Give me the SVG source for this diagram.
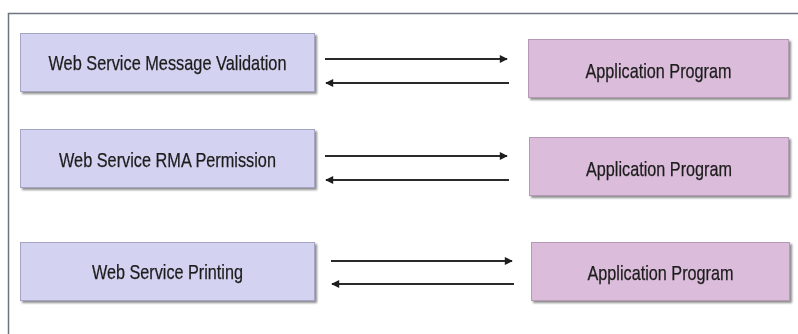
<svg xmlns="http://www.w3.org/2000/svg" width="798" height="334" viewBox="0 0 798 334">
  <defs>
    <filter id="shadow" x="-5%" y="-10%" width="115%" height="130%">
      <feGaussianBlur in="SourceAlpha" stdDeviation="1.2"/>
      <feOffset dx="2" dy="2" result="off"/>
      <feComponentTransfer><feFuncA type="linear" slope="0.45"/></feComponentTransfer>
      <feMerge><feMergeNode/><feMergeNode in="SourceGraphic"/></feMerge>
    </filter>
    <marker id="head" viewBox="0 0 10 10" refX="9" refY="5" markerWidth="9" markerHeight="8" markerUnits="userSpaceOnUse" orient="auto">
      <path d="M0,0 L10,5 L0,10 z" fill="#1e1e1e"/>
    </marker>
  </defs>
  <style>
    .svc { fill: #d3d3f1; stroke: #a4a4c4; stroke-width: 1; }
    .app { fill: #dbbddb; stroke: #b49ab4; stroke-width: 1; }
    .lbl { font-family: "Liberation Sans", Arial, sans-serif; font-size: 21px; fill: #1c1c1c; stroke: #1c1c1c; stroke-width: 0.25; text-anchor: middle; }
    .link { stroke: #2a2a2a; stroke-width: 2; fill: none; marker-end: url(#head); }
    .frame { stroke: #6e7580; stroke-width: 1.5; fill: none; }
  </style>

  <rect width="798" height="334" fill="#ffffff"/>
  <!-- outer frame: top and left edges only -->
  <path class="frame" d="M8.5,334 V13.5 H798"/>

  <g id="svc-validation" filter="url(#shadow)">
    <rect class="svc" x="20.5" y="33.5" width="294" height="58"/>
    <text class="lbl" x="167.5" y="70" textLength="238" lengthAdjust="spacingAndGlyphs">Web Service Message Validation</text>
  </g>
  <g id="svc-rma" filter="url(#shadow)">
    <rect class="svc" x="20.5" y="129.5" width="294" height="58"/>
    <text class="lbl" x="167.5" y="166.5" textLength="217" lengthAdjust="spacingAndGlyphs">Web Service RMA Permission</text>
  </g>
  <g id="svc-printing" filter="url(#shadow)">
    <rect class="svc" x="20.5" y="242.5" width="294" height="58"/>
    <text class="lbl" x="167.5" y="279" textLength="151" lengthAdjust="spacingAndGlyphs">Web Service Printing</text>
  </g>

  <g id="app-1" filter="url(#shadow)">
    <rect class="app" x="528.5" y="39.5" width="260" height="58"/>
    <text class="lbl" x="658.5" y="78" textLength="146" lengthAdjust="spacingAndGlyphs">Application Program</text>
  </g>
  <g id="app-2" filter="url(#shadow)">
    <rect class="app" x="529.5" y="137.5" width="259" height="58"/>
    <text class="lbl" x="659" y="176" textLength="146" lengthAdjust="spacingAndGlyphs">Application Program</text>
  </g>
  <g id="app-3" filter="url(#shadow)">
    <rect class="app" x="531.5" y="242.5" width="258" height="58"/>
    <text class="lbl" x="660.5" y="279.5" textLength="146" lengthAdjust="spacingAndGlyphs">Application Program</text>
  </g>

  <g id="connectors">
    <line class="link" x1="325" y1="59" x2="507" y2="59"/>
    <line class="link" x1="509" y1="83" x2="326" y2="83"/>
    <line class="link" x1="325" y1="156" x2="507" y2="156"/>
    <line class="link" x1="509" y1="180" x2="326" y2="180"/>
    <line class="link" x1="331" y1="261" x2="512" y2="261"/>
    <line class="link" x1="514" y1="284" x2="332" y2="284"/>
  </g>
</svg>
